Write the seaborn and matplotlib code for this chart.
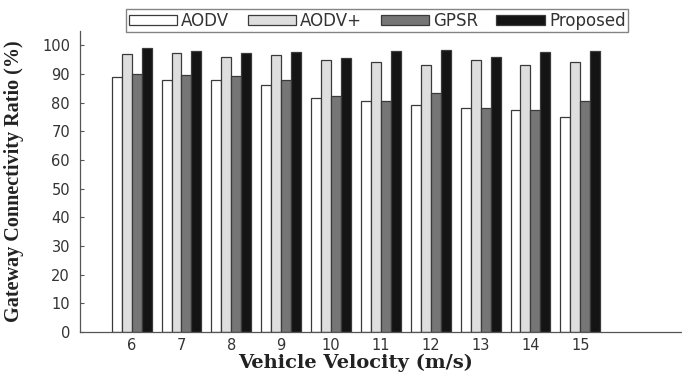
import matplotlib
matplotlib.use("Agg")
import matplotlib.pyplot as plt
import seaborn as sns
import pandas as pd

# Gateway connectivity ratio (%) per protocol at each vehicle velocity (m/s)
velocity = [6, 7, 8, 9, 10, 11, 12, 13, 14, 15]
aodv = [89.0, 88.0, 88.0, 86.3, 81.6, 80.5, 79.1, 78.2, 77.4, 75.0]
aodv_plus = [97.1, 97.3, 95.9, 96.7, 94.7, 94.1, 93.3, 94.9, 93.0, 94.1]
gpsr = [90.1, 89.8, 89.2, 88.0, 82.2, 80.5, 83.2, 78.2, 77.4, 80.5]
proposed = [99.2, 98.1, 97.3, 97.6, 95.6, 98.1, 98.4, 95.9, 97.6, 98.1]
protocols = ["AODV", "AODV+", "GPSR", "Proposed"]
yticks = list(range(0, 101, 10))

frames = []
for name, vals in zip(protocols, [aodv, aodv_plus, gpsr, proposed]):
    frames.append(pd.DataFrame({"velocity": velocity, "ratio": vals, "protocol": name}))
df = pd.concat(frames, ignore_index=True)

sns.set_style("ticks")
plt.rcParams["font.family"] = ["DejaVu Sans"]

fig = plt.figure(figsize=(6.82, 3.73), dpi=100)
ax = fig.add_axes([0.117, 0.110, 0.883, 0.807])

palette = {"AODV": "#ffffff", "AODV+": "#dedede", "GPSR": "#767676", "Proposed": "#141414"}
sns.barplot(data=df, x="velocity", y="ratio", hue="protocol", hue_order=protocols,
            palette=palette, native_scale=True, width=0.8, saturation=1,
            edgecolor="#3a3a3a", linewidth=0.9, ax=ax, legend=True)

ax.set_xlim(4.96, 17.04)
ax.set_ylim(0, 105)
ax.set_xticks(velocity)
ax.set_xticklabels([str(v) for v in velocity])
ax.set_yticks(yticks)
ax.tick_params(direction="in", length=3, labelsize=10.5, labelcolor="#333333",
               color="#555555", width=0.8)
ax.tick_params(axis="y", pad=7)
ax.tick_params(axis="x", pad=4)
for side in ("top", "right"):
    ax.spines[side].set_visible(False)
for side in ("left", "bottom"):
    ax.spines[side].set_color("#555555")
    ax.spines[side].set_linewidth(0.9)

ax.set_xlabel("Vehicle Velocity (m/s)", family="DejaVu Serif", fontweight="bold",
              fontsize=14, color="#222222")
# centre the x label under the velocity groups
ax.xaxis.set_label_coords(0.458, -0.071)
ax.set_ylabel("Gateway Connectivity Ratio (%)", family="Liberation Serif", fontweight="bold",
              fontsize=14.5, color="#222222", labelpad=13)

handles, labels = ax.get_legend_handles_labels()
ax.get_legend().remove()
leg = fig.legend(handles, labels, loc="center", bbox_to_anchor=(0.553, 0.944), ncol=4,
                 frameon=True, fancybox=False, fontsize=12, handlelength=2.9,
                 handleheight=0.6, handletextpad=0.25, columnspacing=1.1,
                 borderpad=0.15, borderaxespad=0)
leg.get_frame().set_edgecolor("#666666")
leg.get_frame().set_linewidth(1.0)
for t in leg.get_texts():
    t.set_color("#333333")

fig.savefig("out.png", dpi=100)
